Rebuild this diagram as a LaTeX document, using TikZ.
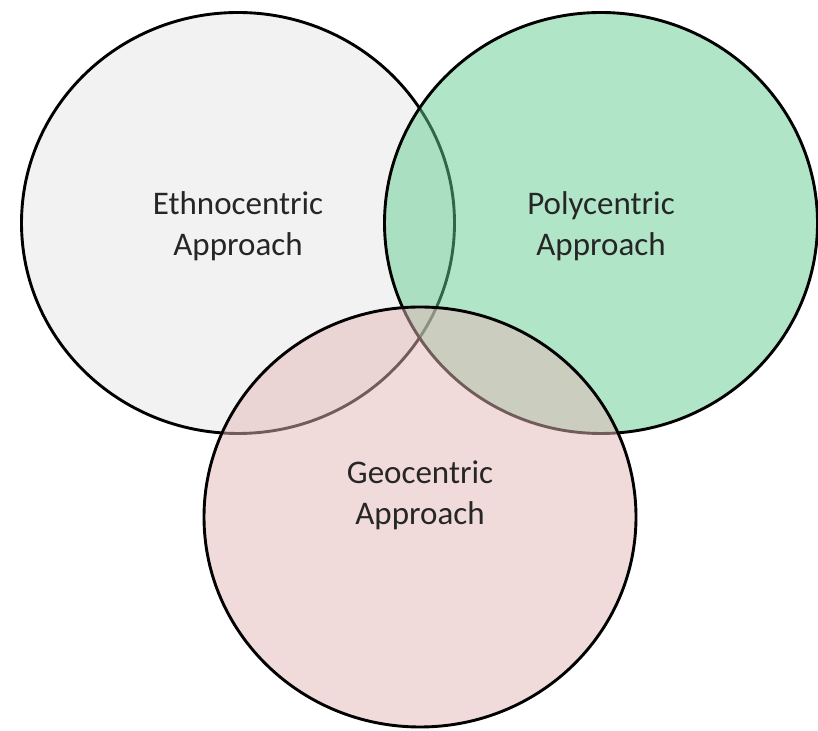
\documentclass[tikz,border=0pt]{standalone}
\usepackage{fontspec}
\setmainfont{Carlito}
\definecolor{ethfill}{RGB}{242,242,242}
\definecolor{polyfill}{RGB}{101,205,145}
\definecolor{geofill}{RGB}{229,185,183}
\definecolor{txt}{RGB}{38,38,38}
\begin{document}
\begin{tikzpicture}[x=1pt,y=1pt,
  venn/.style={draw=black,line width=2.9pt},
  lbl/.style={align=center,text=txt,font=\fontsize{33}{41}\selectfont}]
\useasboundingbox (0,0) rectangle (818,730);
\fill[white] (0,0) rectangle (818,730);
\draw[venn,fill=ethfill] (238,507) ellipse [x radius=216.5,y radius=210.5];
\draw[venn,fill=polyfill,fill opacity=0.5] (601,507) ellipse [x radius=216.5,y radius=210.5];
\draw[venn,fill=geofill,fill opacity=0.5] (420,213) ellipse [x radius=216,y radius=210];
\node[lbl] (eth) at (238,504) {Ethnocentric\\Approach};
\node[lbl] (poly) at (601,504) {Polycentric\\Approach};
\node[lbl] (geo) at (420,235) {Geocentric\\Approach};
\end{tikzpicture}
\end{document}
